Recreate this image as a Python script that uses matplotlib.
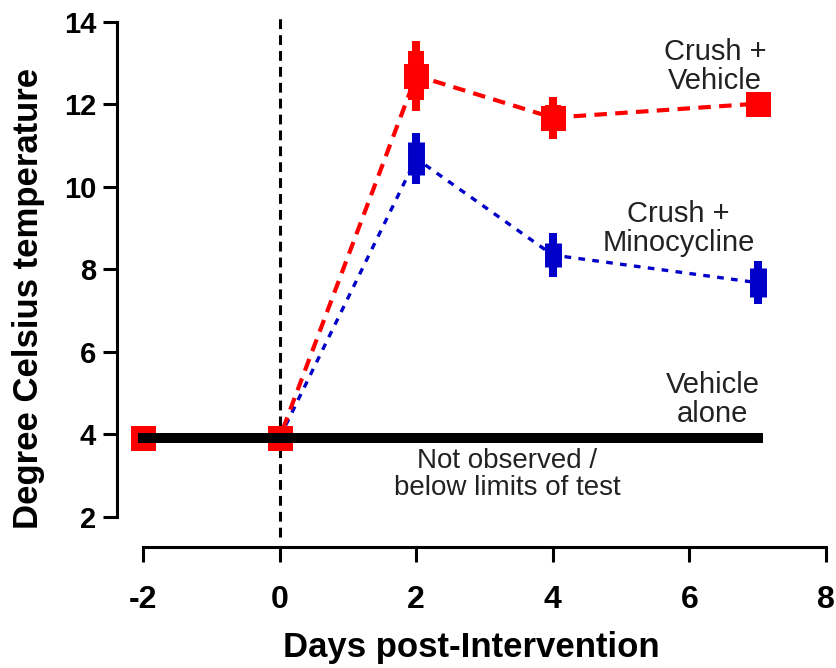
import matplotlib
matplotlib.use("Agg")
import matplotlib.pyplot as plt
from matplotlib import font_manager

# days relative to the intervention
days = [-2, 0, 2, 4, 7]

# Crush + Vehicle
vehicle_mean = [3.92, 3.92, 12.70, 11.68, 12.02]
vehicle_err = [0.0, 0.0, 0.85, 0.51, 0.0]
vehicle_err_inner = [0.0, 0.0, 0.60, 0.30, 0.0]

# Crush + Minocycline
mino_days = [0, 2, 4, 7]
mino_mean = [3.92, 10.69, 8.35, 7.68]
mino_err = [0.0, 0.62, 0.53, 0.52]
mino_err_inner = [0.0, 0.40, 0.30, 0.35]

# Vehicle alone: nothing measurable
alone_days = [-2, 7]
alone_temp = [3.92, 3.92]

x_ticks = [-2, 0, 2, 4, 6, 8]
y_ticks = [2, 4, 6, 8, 10, 12, 14]

RED = "#ff0000"
BLUE = "#0000c8"
TEXT = "#222222"

installed = {f.name for f in font_manager.fontManager.ttflist}
narrow = "Liberation Sans Narrow" if "Liberation Sans Narrow" in installed else "Liberation Sans"

plt.rcParams["font.family"] = ["Liberation Sans", "DejaVu Sans"]
plt.rcParams["axes.unicode_minus"] = False

fig = plt.figure(figsize=(8.36, 6.68), dpi=100)
ax = fig.add_axes([0.140, 0.181, 0.848, 0.804])
ax.set_xlim(-2.38, 8.0)
ax.set_ylim(1.27, 14.29)

# intervention marker
ax.plot([0, 0], [1.51, 14.17], color="black", lw=2.2, dashes=(3.2, 2.0), zorder=1, clip_on=False)

# vehicle alone baseline
ax.plot(alone_days, alone_temp, color="black", lw=7.2, solid_capstyle="projecting", zorder=5)

# minocycline group
ax.plot(mino_days, mino_mean, color=BLUE, lw=2.4, dashes=(2.0, 2.2), zorder=2)
ax.errorbar(mino_days, mino_mean, yerr=mino_err, fmt="none", ecolor=BLUE,
            elinewidth=5.8, capsize=0, zorder=3)
ax.errorbar(mino_days[1:], mino_mean[1:], yerr=mino_err_inner[1:], fmt="none", ecolor=BLUE,
            elinewidth=12.2, capsize=0, zorder=3)

# vehicle group
ax.plot(days, vehicle_mean, color=RED, lw=3.0, dashes=(3.0, 2.0), zorder=2)
ax.errorbar(days, vehicle_mean, yerr=vehicle_err, fmt="none", ecolor=RED,
            elinewidth=5.8, capsize=0, zorder=4)
ax.errorbar(days[2:4], vehicle_mean[2:4], yerr=vehicle_err_inner[2:4], fmt="none", ecolor=RED,
            elinewidth=11.5, capsize=0, zorder=4)
ax.plot(days, vehicle_mean, ls="none", marker="s", ms=18, color=RED, mew=0, zorder=4)

# group labels
label_kw = dict(ha="center", va="center", color=TEXT, linespacing=1.05)
ax.text(6.38, 12.93, "Crush +\nVehicle", fontsize=21, **label_kw)
ax.text(5.84, 9.0, "Crush +\nMinocycline", fontsize=21, **label_kw)
ax.text(6.34, 4.84, "Vehicle\nalone", fontsize=21, **label_kw)
ax.text(3.33, 3.02, "Not observed /\nbelow limits of test", fontsize=20, **label_kw)

# prism-style detached axes
for side in ("top", "right"):
    ax.spines[side].set_visible(False)
ax.spines["left"].set_bounds(2, 14)
ax.spines["bottom"].set_bounds(-2, 8)
ax.spines["left"].set_linewidth(2.2)
ax.spines["bottom"].set_linewidth(2.2)

ax.set_xticks(x_ticks)
ax.set_yticks(y_ticks)
ax.tick_params(axis="y", length=10, width=2.2, pad=5, labelsize=21)
ax.tick_params(axis="x", length=11, width=2.2, pad=16, labelsize=23)
for lab in ax.get_yticklabels():
    lab.set_fontweight("bold")
for lab in ax.get_xticklabels():
    lab.set_fontweight("bold")
    lab.set_family(narrow)

ax.set_xlabel("Days post-Intervention", fontsize=25, fontweight="bold", family=narrow, labelpad=12)
ax.set_ylabel("Degree Celsius temperature", fontsize=25, fontweight="bold")
ax.yaxis.set_label_coords(-0.102, 0.463)

fig.savefig("out.png", dpi=100)
